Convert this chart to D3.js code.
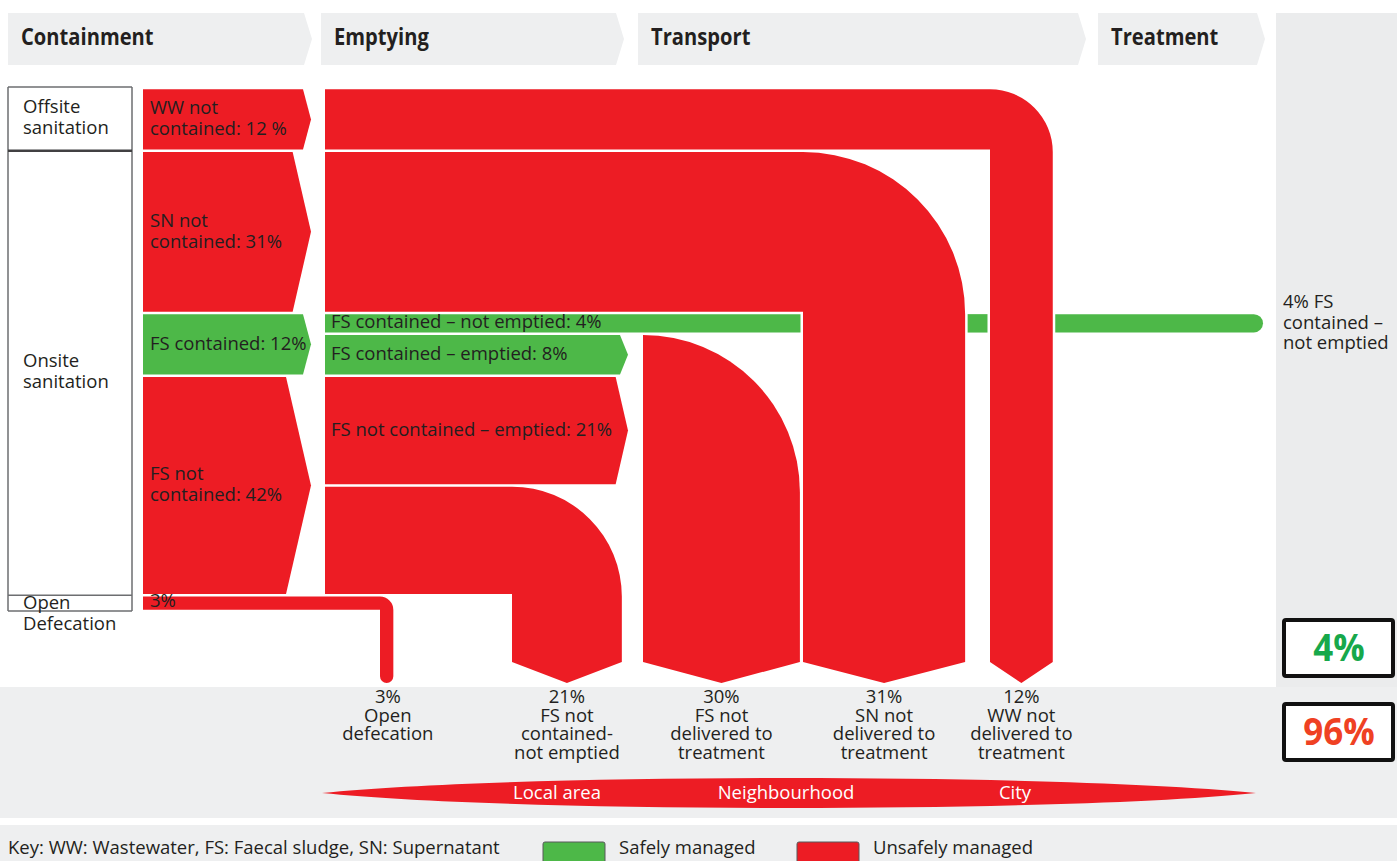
<!DOCTYPE html>
<html>
<head>
<meta charset="utf-8">
<script src="https://cdn.jsdelivr.net/npm/d3@7"></script>
<style>
  body { margin: 0; background: #fff; }
  text { font-family: "Open Sans", sans-serif; fill: #231f20; font-size: 18.5px; }
</style>
</head>
<body>
<div id="chart"></div>
<script>
"use strict";

// chart data
var stages = ["Containment", "Emptying", "Transport", "Treatment"];
var sourceNames = [["Offsite", "sanitation"], ["Onsite", "sanitation"], ["Open", "Defecation"]];
var sourceValues = [12, 85, 3];
var containNames = [["WW not", "contained: 12 %"], ["SN not", "contained: 31%"], ["FS contained: 12%"], ["FS not", "contained: 42%"], ["3%"]];
var containValues = [12, 31, 12, 42, 3];
var containSafe = [false, false, true, false, false];
var emptyNames = ["", "", "FS contained – not emptied: 4%", "FS contained – emptied: 8%", "FS not contained – emptied: 21%", "", ""];
var emptyValues = [12, 31, 4, 8, 21, 21, 3];
var emptySafe = [false, false, true, true, false, false, false];
var outletNames = [["3%", "Open", "defecation"], ["21%", "FS not", "contained-", "not emptied"],
    ["30%", "FS not", "delivered to", "treatment"], ["31%", "SN not", "delivered to", "treatment"],
    ["12%", "WW not", "delivered to", "treatment"]];
var outletValues = [3, 21, 30, 31, 12];
var treatedNames = ["4% FS", "contained –", "not emptied"];
var zones = ["Local area", "Neighbourhood", "City"];
var summaryValues = [4, 96];
var keyText = "Key: WW: Wastewater, FS: Faecal sludge, SN: Supernatant";
var keyNames = ["Safely managed", "Unsafely managed"];

// layout
var width = 1397, height = 861;
var RED = "#ed1c24", GREEN = "#4db848", GREY = "#eeeff0";
var y = d3.scaleLinear().domain([0, 100]).range([88, 611]);
var k = y(1) - y(0);
var gap = 1.25;
var headerX = [[8, 312], [321, 624], [638, 1086], [1098, 1265]];
var containX = 143, containTip = 311;
var emptyX = 325, emptyTip = 628;
var outletX = [380, 512, 643, 803, 990];
var sideY = 662, tipY = 683;
var greenEnd = 1263;

function stack(values) {
    var c = 0;
    return values.map(function (v) {
        var b = { y0: y(c) + gap, y1: y(c + v) - gap, v: v };
        c += v;
        return b;
    });
}

// multi-line label as one text element
function label(x, y0, lines, step, anchor) {
    var t = svg.append("text")
        .attr("x", x).attr("y", y0)
        .attr("text-anchor", anchor || "start");
    lines.forEach(function (s, j) {
        t.append("tspan").attr("x", x).attr("dy", j === 0 ? 0 : step).text(s);
    });
    return t;
}

var svg = d3.select("#chart").append("svg")
    .attr("width", width)
    .attr("height", height);

// background panels
svg.append("rect").attr("x", 1276).attr("y", 13).attr("width", width - 1276).attr("height", 674).attr("fill", "#ebeced");
svg.append("rect").attr("x", 0).attr("y", 687).attr("width", width).attr("height", 131).attr("fill", GREY);
svg.append("rect").attr("x", 0).attr("y", 825).attr("width", width).attr("height", 36).attr("fill", GREY);

// header chevrons
svg.selectAll(".stage")
    .data(stages)
    .enter().append("path")
    .attr("fill", GREY)
    .attr("d", function (d, i) {
        var x0 = headerX[i][0], x1 = headerX[i][1];
        return "M" + x0 + ",13H" + (x1 - 8) + "L" + x1 + ",39L" + (x1 - 8) + ",65H" + x0 + "Z";
    });
svg.selectAll(".stageLabel")
    .data(stages)
    .enter().append("text")
    .attr("transform", function (d, i) { return "translate(" + (headerX[i][0] + 13) + ",45) scale(0.84,1)"; })
    .style("font-size", "24px")
    .style("font-weight", "bold")
    .text(function (d) { return d; });

// source boxes on the left
var sb = stack(sourceValues);
var boxTop = y(0) - 1, boxBottom = y(100);
[8, 132].forEach(function (lx) {
    svg.append("line").attr("x1", lx).attr("x2", lx).attr("y1", boxTop).attr("y2", boxBottom)
        .attr("stroke", "#6d6e71").attr("stroke-width", 1.5);
});
[y(0) - 1, y(12), y(97), y(100)].forEach(function (ly, i) {
    svg.append("line").attr("x1", 8).attr("x2", 132).attr("y1", ly).attr("y2", ly)
        .attr("stroke", i === 1 ? "#414042" : "#6d6e71")
        .attr("stroke-width", i === 1 ? 2.5 : 1.5);
});
sb.forEach(function (b, i) {
    var c = (b.y0 + b.y1) / 2;
    var first = (b.y1 - b.y0) < 30 ? b.y0 + 12 : c - 6;
    label(23, first, sourceNames[i], 21);
});

// containment blocks (the last one, open defecation, runs on to its outlet)
var cb = stack(containValues);
cb.slice(0, 4).forEach(function (b, i) {
    var d = Math.max(8, (b.y1 - b.y0) * 0.115);
    svg.append("path")
        .attr("fill", containSafe[i] ? GREEN : RED)
        .attr("d", "M" + containX + "," + b.y0 + "H" + (containTip - d) + "L" + containTip + "," + ((b.y0 + b.y1) / 2) +
            "L" + (containTip - d) + "," + b.y1 + "H" + containX + "Z");
});

// emptying blocks
var eb = stack(emptyValues);

// FS contained - not emptied: long green bar, broken where the red bands cross it
var g = eb[2];
var snX0 = outletX[3], snX1 = outletX[3] + k * outletValues[3];
var wwX0 = outletX[4], wwX1 = outletX[4] + k * outletValues[4];
var greenSegs = [[emptyX, snX0 - 2.5], [snX1 + 2.5, wwX0 - 2.5], [wwX1 + 2.5, greenEnd]];
greenSegs.forEach(function (s, i) {
    var r = (g.y1 - g.y0) / 2;
    var dd = i === 2
        ? "M" + s[0] + "," + g.y0 + "H" + (s[1] - r) + "A" + r + "," + r + " 0 0 1 " + (s[1] - r) + "," + g.y1 + "H" + s[0] + "Z"
        : "M" + s[0] + "," + g.y0 + "H" + s[1] + "V" + g.y1 + "H" + s[0] + "Z";
    svg.append("path").attr("fill", GREEN).attr("d", dd);
});

// emptied chevrons (8% and 21%)
[3, 4].forEach(function (i) {
    var b = eb[i];
    var d = Math.max(8, (b.y1 - b.y0) * 0.115);
    svg.append("path")
        .attr("fill", emptySafe[i] ? GREEN : RED)
        .attr("d", "M" + emptyX + "," + b.y0 + "H" + (emptyTip - d) + "L" + emptyTip + "," + ((b.y0 + b.y1) / 2) +
            "L" + (emptyTip - d) + "," + b.y1 + "H" + emptyX + "Z");
});

// bands that bend down into an outlet
function bend(b, x0, oi) {
    var ox = outletX[oi], ow = k * outletValues[oi];
    var cx = ox + ow / 2;
    return "M" + x0 + "," + b.y0 + "H" + ox +
        "A" + ow + "," + ow + " 0 0 1 " + (ox + ow) + "," + (b.y0 + ow) +
        "V" + sideY + "L" + cx + "," + tipY + "L" + ox + "," + sideY +
        "V" + b.y1 + "H" + x0 + "Z";
}
svg.append("path").attr("fill", RED).attr("d", bend(eb[0], emptyX, 4));
svg.append("path").attr("fill", RED).attr("d", bend(eb[1], emptyX, 3));
svg.append("path").attr("fill", RED).attr("d", bend(eb[5], emptyX, 1));

// emptied sludge transported: 30%
(function () {
    var ox = outletX[2], ow = k * outletValues[2], top = eb[3].y0;
    svg.append("path").attr("fill", RED)
        .attr("d", "M" + ox + "," + top + "A" + ow + "," + ow + " 0 0 1 " + (ox + ow) + "," + (top + ow) +
            "V" + sideY + "L" + (ox + ow / 2) + "," + tipY + "L" + ox + "," + sideY + "Z");
})();

// open defecation: from containment straight to its outlet
(function () {
    var b = eb[6], ox = outletX[0], ow = k * outletValues[0] * 0.85;
    var end = tipY - ow / 2;
    svg.append("path").attr("fill", RED)
        .attr("d", "M" + containX + "," + b.y0 + "H" + ox +
            "A" + ow + "," + ow + " 0 0 1 " + (ox + ow) + "," + (b.y0 + ow) +
            "V" + end + "A" + (ow / 2) + "," + (ow / 2) + " 0 0 1 " + ox + "," + end +
            "V" + b.y1 + "H" + containX + "Z");
})();

// flow labels
cb.forEach(function (b, i) {
    var lines = containNames[i];
    var c = (b.y0 + b.y1) / 2;
    var first = i === 4 ? b.y1 - 3 : (lines.length === 1 ? c + 6 : c - 5);
    label(150, first, lines, 21);
});
eb.forEach(function (b, i) {
    if (!emptyNames[i]) return;
    label(331, (b.y0 + b.y1) / 2 + 5, [emptyNames[i]], 0);
});
label(1283, 308, treatedNames, 20.5);

// outlet labels
outletNames.forEach(function (lines, i) {
    var cx = outletX[i] + k * outletValues[i] / 2;
    label(cx, 703, lines, 18.5, "middle");
});

// distance lens
svg.append("path").attr("fill", RED)
    .attr("d", "M322,793C520,773 1060,773 1256,793C1060,813 520,813 322,793Z");
var zx = d3.scalePoint().domain(zones).range([557, 1015]);
svg.selectAll(".zone")
    .data(zones)
    .enter().append("text")
    .attr("x", function (d) { return zx(d); })
    .attr("y", 799)
    .attr("text-anchor", "middle")
    .style("fill", "#fff")
    .text(function (d) { return d; });

// summary boxes
var summaryColors = ["#17a84b", "#ef4123"];
var summaryTop = [620, 704];
summaryValues.forEach(function (v, i) {
    svg.append("rect").attr("x", 1284).attr("y", summaryTop[i])
        .attr("width", 109).attr("height", 56).attr("rx", 2)
        .attr("fill", "#fff").attr("stroke", "#111").attr("stroke-width", 4);
    svg.append("text")
        .attr("transform", "translate(1339," + (summaryTop[i] + 41) + ") scale(0.92,1)")
        .attr("text-anchor", "middle")
        .style("font-size", "38px").style("font-weight", "bold")
        .style("fill", summaryColors[i])
        .text(v + "%");
});

// key
svg.append("text").attr("x", 8).attr("y", 854)
    .text(keyText);
var keyX = [543, 797];
keyNames.forEach(function (t, i) {
    svg.append("rect").attr("x", keyX[i]).attr("y", 842).attr("width", 62).attr("height", 24)
        .attr("rx", 2).attr("fill", i === 0 ? GREEN : RED).attr("stroke", "#58595b").attr("stroke-width", 1);
    svg.append("text").attr("x", keyX[i] + 76).attr("y", 854)
        .text(t);
});
</script>
</body>
</html>
